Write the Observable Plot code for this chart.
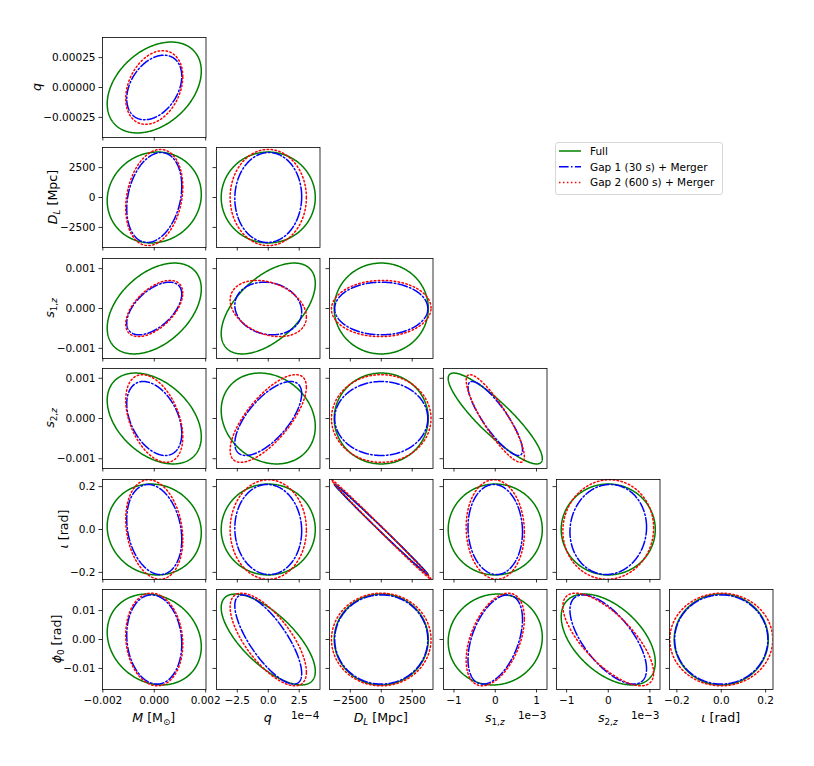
<!DOCTYPE html>
<html>
<head>
<meta charset="utf-8">
<script src="https://cdn.jsdelivr.net/npm/d3@7"></script>
<script src="https://cdn.jsdelivr.net/npm/@observablehq/plot@0.6"></script>
<style>
  body { margin: 0; background: #ffffff; }
  #fig { position: relative; width: 814px; height: 766px; font-family: "DejaVu Sans", sans-serif; }
  #fig svg { position: absolute; overflow: visible; }
</style>
</head>
<body>
<div id="fig"></div>
<script>
// ---------------- data ----------------
const paramNames = ["M", "q", "D_L", "s1z", "s2z", "iota", "phi0"];

// half-extents of the confidence ellipses, per parameter
const fullExtent = [0.00183, 3.80e-4, 3800, 1.14e-3, 1.13e-3, 0.212, 0.0157];
const gap1Extent = [0.00107, 2.70e-4, 3760, 0.66e-3, 0.92e-3, 0.210, 0.0154];
const gap2Extent = [0.00111, 3.08e-4, 4020, 0.705e-3, 1.09e-3, 0.232, 0.0160];

// correlation coefficients; row i -> parameter i+1, column j -> parameter j
const fullCorr = [
  [0.36],
  [0.07, 0.0],
  [0.43, 0.55, 0.0],
  [-0.40, -0.18, 0.0, -0.88],
  [-0.07, 0.0, -0.998, 0.0, 0.0],
  [-0.16, -0.70, 0.0, 0.05, -0.50, 0.0]
];
const gap1Corr = [
  [0.35],
  [0.25, 0.02],
  [0.55, -0.12, 0.0],
  [-0.40, 0.67, 0.0, -0.85],
  [-0.22, -0.03, -0.998, -0.05, 0.05],
  [-0.10, -0.76, 0.0, 0.45, -0.66, 0.0]
];
const gap2Corr = [
  [0.30],
  [0.22, 0.0],
  [0.55, -0.30, 0.02],
  [-0.42, 0.72, 0.0, -0.87],
  [-0.20, 0.0, -0.998, -0.05, 0.03],
  [-0.10, -0.70, 0.0, 0.45, -0.72, 0.0]
];

const seriesNames = ["Full", "Gap 1 (30 s) + Merger", "Gap 2 (600 s) + Merger"];

// ticks
const tickValues = [
  [-0.002, 0, 0.002],
  [-2.5e-4, 0, 2.5e-4],
  [-2500, 0, 2500],
  [-1e-3, 0, 1e-3],
  [-1e-3, 0, 1e-3],
  [-0.2, 0, 0.2],
  [-0.01, 0, 0.01]
];
const xTickLabels = [
  ["−0.002", "0.000", "0.002"],
  ["−2.5", "0.0", "2.5"],
  ["−2500", "0", "2500"],
  ["−1", "0", "1"],
  ["−1", "0", "1"],
  ["−0.2", "0.0", "0.2"],
  null
];
const yTickLabels = [
  null,
  ["−0.00025", "0.00000", "0.00025"],
  ["−2500", "0", "2500"],
  ["−0.001", "0.000", "0.001"],
  ["−0.001", "0.000", "0.001"],
  ["−0.2", "0.0", "0.2"],
  ["−0.01", "0.00", "0.01"]
];
const offsetTexts = [null, "1e−4", null, "1e−3", "1e−3", null, null];

// axis labels (rich text segments)
const axisLabels = [
  [{t: "M", it: 1}, {t: " [M"}, {t: "⊙", sub: 1}, {t: "]"}],
  [{t: "q", it: 1}],
  [{t: "D", it: 1}, {t: "L", it: 1, sub: 1}, {t: " [Mpc]"}],
  [{t: "s", it: 1}, {t: "1,", sub: 1}, {t: "z", it: 1, sub: 1}],
  [{t: "s", it: 1}, {t: "2,", sub: 1}, {t: "z", it: 1, sub: 1}],
  [{t: "ι", it: 1}, {t: " [rad]"}],
  [{t: "ϕ", it: 1}, {t: "0", sub: 1}, {t: " [rad]"}]
];

// ---------------- styles / layout ----------------
const seriesStyle = [
  {stroke: "#008000", dash: null},
  {stroke: "#0000ff", dash: "9.6,2.4,1.5,2.4"},
  {stroke: "#ff0000", dash: "1.5,2.475"}
];
const W = 103.5, H = 100;
const frameLeft = c => 102.4 + 113.4 * c;
const frameTop = r => 37 + 110.4 * r;
const tickFont = 10.5, labelFont = 12.6;
const FONT = "DejaVu Sans";

const extents = [fullExtent, gap1Extent, gap2Extent];
const corrs = [fullCorr, gap1Corr, gap2Corr];
const dom = v => [-1.1 * fullExtent[v], 1.1 * fullExtent[v]];

function ellipsePoints(ax, ay, rho) {
  const s = Math.sqrt(Math.max(0, 1 - rho * rho));
  return d3.range(0, 361).map(k => {
    const t = (2 * Math.PI * k) / 360;
    return {x: ax * Math.cos(t), y: ay * (rho * Math.cos(t) + s * Math.sin(t))};
  });
}

function richText(sel, segs, fs) {
  let sub = false;
  const shift = 0.22 * fs;
  segs.forEach(sg => {
    const ts = sel.append("tspan").text(sg.t);
    if (sg.it) ts.attr("font-style", "italic");
    if (sg.sub && !sub) { ts.attr("dy", shift); sub = true; }
    else if (!sg.sub && sub) { ts.attr("dy", -shift); sub = false; }
    if (sg.sub) ts.attr("font-size", 0.7 * fs);
  });
}

const fig = document.getElementById("fig");

for (let r = 0; r < 6; r++) {
  const rv = r + 1;
  for (let c = 0; c <= r; c++) {
    const cv = c;
    const ml = c === 0 ? 100 : 6;
    const mb = r === 5 ? 42 : 6;
    const mt = 4, mr = 6;
    const showX = r === 5, showY = c === 0;
    const marks = [];
    for (let s = 0; s < 3; s++) {
      const pts = ellipsePoints(extents[s][cv], extents[s][rv], corrs[s][r][c]);
      const opt = {x: "x", y: "y", stroke: seriesStyle[s].stroke, strokeWidth: 1.5, clip: true, curve: "linear"};
      if (seriesStyle[s].dash) opt.strokeDasharray = seriesStyle[s].dash;
      marks.push(Plot.line(pts, opt));
    }
    const xt = tickValues[cv], yt = tickValues[rv];
    marks.push(Plot.axisX({
      ticks: xt, tickSize: 3.5, tickPadding: 3.5, strokeWidth: 0.8, label: null, fontSize: tickFont,
      tickFormat: d => showX ? xTickLabels[cv][xt.indexOf(d)] : ""
    }));
    marks.push(Plot.axisY({
      ticks: yt, tickSize: 3.5, tickPadding: 3.5, strokeWidth: 0.8, label: null, fontSize: tickFont,
      tickFormat: d => showY ? yTickLabels[rv][yt.indexOf(d)] : ""
    }));
    marks.push(Plot.frame({stroke: "#000000", strokeWidth: 0.8}));

    const svg = Plot.plot({
      width: ml + W + mr,
      height: mt + H + mb,
      marginLeft: ml, marginRight: mr, marginTop: mt, marginBottom: mb,
      x: {domain: dom(cv)},
      y: {domain: dom(rv)},
      style: {fontFamily: FONT, fontSize: tickFont + "px", background: "transparent", overflow: "visible", color: "#000"},
      marks
    });
    svg.style.left = (frameLeft(c) - ml) + "px";
    svg.style.top = (frameTop(r) - mt) + "px";
    fig.appendChild(svg);

    const s3 = d3.select(svg);
    if (showX) {
      const t = s3.append("text")
        .attr("x", ml + W / 2).attr("y", mt + H + 33)
        .attr("text-anchor", "middle").attr("font-family", FONT)
        .attr("font-size", labelFont).attr("fill", "#000");
      richText(t, axisLabels[cv], labelFont);
      if (offsetTexts[cv]) {
        s3.append("text")
          .attr("x", ml + W).attr("y", mt + H + 30)
          .attr("text-anchor", "end").attr("font-family", FONT)
          .attr("font-size", tickFont).attr("fill", "#000")
          .text(offsetTexts[cv]);
      }
    }
    if (showY) {
      const g = svg.querySelector('g[aria-label="y-axis tick label"]');
      let left = ml - 40;
      if (g) { const bb = g.getBBox(); left = bb.x; }
      const bx = left - 9;
      const t = s3.append("text")
        .attr("transform", `translate(${bx},${mt + H / 2}) rotate(-90)`)
        .attr("text-anchor", "middle").attr("font-family", FONT)
        .attr("font-size", labelFont).attr("fill", "#000");
      richText(t, axisLabels[rv], labelFont);
    }
  }
}

// ---------------- legend ----------------
const lg = d3.select(fig).append("svg")
  .attr("width", 168).attr("height", 53)
  .style("left", "555px").style("top", "142px");
lg.append("rect").attr("x", 0.5).attr("y", 0.5).attr("width", 167).attr("height", 52)
  .attr("rx", 2.5).attr("fill", "#ffffff").attr("fill-opacity", 0.8)
  .attr("stroke", "#cccccc").attr("stroke-width", 0.8);
seriesNames.forEach((name, i) => {
  const cy = 9 + 15.8 * i;
  const ln = lg.append("line").attr("x1", 4).attr("x2", 26).attr("y1", cy).attr("y2", cy)
    .attr("stroke", seriesStyle[i].stroke).attr("stroke-width", 1.5);
  if (seriesStyle[i].dash) ln.attr("stroke-dasharray", seriesStyle[i].dash);
  lg.append("text").attr("x", 35).attr("y", cy).attr("dy", "0.36em")
    .attr("font-family", FONT).attr("font-size", 10.5).attr("fill", "#000")
    .text(name);
});
</script>
</body>
</html>
